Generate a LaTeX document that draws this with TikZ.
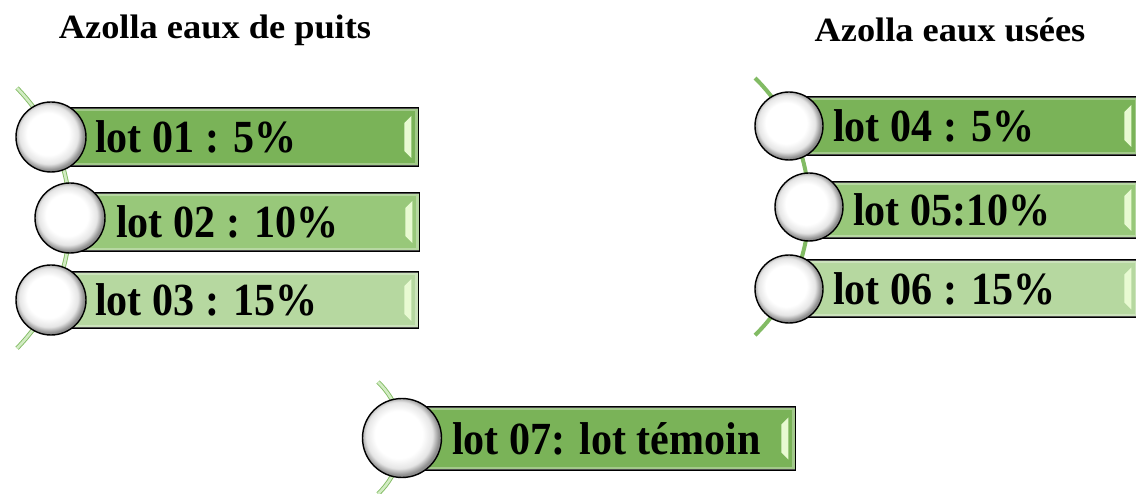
\documentclass[tikz,border=0pt]{standalone}
\usepackage{fontspec}
\setmainfont{Liberation Serif}
\newfontfamily\barfont[FakeStretch=0.915]{Liberation Serif}
\newfontfamily\titlefont[FakeStretch=1.07]{Liberation Serif}
\usetikzlibrary{calc}
\definecolor{g1}{RGB}{122,179,88}
\definecolor{g2}{RGB}{152,200,122}
\definecolor{g3}{RGB}{182,216,160}
\definecolor{arcg}{RGB}{130,187,100}
\definecolor{arcl}{RGB}{210,236,195}
\definecolor{hl}{RGB}{232,250,210}
\pgfdeclareradialshading{ballw}{\pgfpoint{-3bp}{3bp}}{color(0bp)=(white); color(15bp)=(white); color(21bp)=(black!10); color(25bp)=(black!45); color(50bp)=(black!45)}
\tikzset{
  bar/.style={draw=black, line width=1.4pt, rectangle, inner sep=0pt, anchor=west},
  ball/.style={circle, draw=black, line width=1.4pt, shade, shading=ballw, inner sep=0pt},
  lbl/.style={anchor=base west, inner sep=0pt, font=\barfont\bfseries\fontsize{46}{46}\selectfont},
  ttl/.style={anchor=base, font=\titlefont\bfseries\fontsize{34}{34}\selectfont, inner sep=0pt},
  arcd/.style={draw=arcg, line width=0.9pt, double=arcl, double distance=2.6pt},
  arcs/.style={draw=arcg, line width=4pt},
  bevel/.style={fill=hl},
  gloss/.style={draw=white, opacity=0.3, line width=3pt},
}
\newcommand{\bevelat}[1]{%
  \draw[gloss] ($(#1.south west)+(2.5,-2.5)$) rectangle ($(#1.north east)+(-2.5,2.5)$);
  \fill[bevel] ($(#1.east)+(-8,-21)$) -- ($(#1.east)+(-15,-14)$) -- ($(#1.east)+(-15,14)$) -- ($(#1.east)+(-8,21)$) -- cycle;}
\begin{document}
\begin{tikzpicture}[x=1pt,y=-1pt]
\useasboundingbox (0,0) rectangle (1136,494);
% titles
\node[ttl] (T1) at (215,39) {Azolla eaux de puits};
\node[ttl] (T2) at (950,42) {Azolla eaux usées};
% arcs
\coordinate (a1) at (17,88);
\coordinate (a2) at (755,78);
\coordinate (a3) at (378,382);
\draw[arcd] (a1) arc[start angle=-44.4, end angle=44.4, radius=186];
\draw[arcs] (a2) arc[start angle=-45.6, end angle=45.6, radius=180];
\draw[arcd] (a3) arc[start angle=-46.4, end angle=46.4, radius=77.3];
% left group
\node[bar, fill=g1, minimum width=367pt, minimum height=58pt] (b1) at (51,137) {};
\node[bar, fill=g2, minimum width=349pt, minimum height=58pt] (b2) at (70,222) {};
\node[bar, fill=g3, minimum width=367pt, minimum height=56pt] (b3) at (51,300) {};
% right group
\node[bar, fill=g1, minimum width=349pt, minimum height=58pt] (b4) at (789,126) {};
\node[bar, fill=g2, minimum width=329pt, minimum height=56pt] (b5) at (809,210) {};
\node[bar, fill=g3, minimum width=349pt, minimum height=57pt] (b6) at (789,288.5) {};
% bottom
\node[bar, fill=g1, minimum width=393pt, minimum height=63pt] (b7) at (402,438.5) {};
\bevelat{b1}\bevelat{b2}\bevelat{b3}\bevelat{b4}\bevelat{b5}\bevelat{b6}\bevelat{b7}
% balls
\node[ball, minimum size=70pt] (c1) at (51,137) {};
\node[ball, minimum size=70pt] (c2) at (70,218) {};
\node[ball, minimum size=70pt] (c3) at (51,300) {};
\node[ball, minimum size=68pt] (c4) at (789,126) {};
\node[ball, minimum size=68pt] (c5) at (809,207) {};
\node[ball, minimum size=68pt] (c6) at (789,289) {};
\node[ball, minimum size=79pt] (c7) at (402,438) {};
% labels
\node[lbl] (t1) at (95,153) {lot 01 : 5\%};
\node[lbl] (t2) at (116,238) {lot 02 : 10\%};
\node[lbl] (t3) at (95,316) {lot 03 : 15\%};
\node[lbl] (t4) at (833,142) {lot 04 : 5\%};
\node[lbl] (t5) at (853,226) {lot 05:10\%};
\node[lbl] (t6) at (833,304.5) {lot 06 : 15\%};
\node[lbl] (t7) at (452,454.5) {lot 07: lot témoin};
\end{tikzpicture}
\end{document}
